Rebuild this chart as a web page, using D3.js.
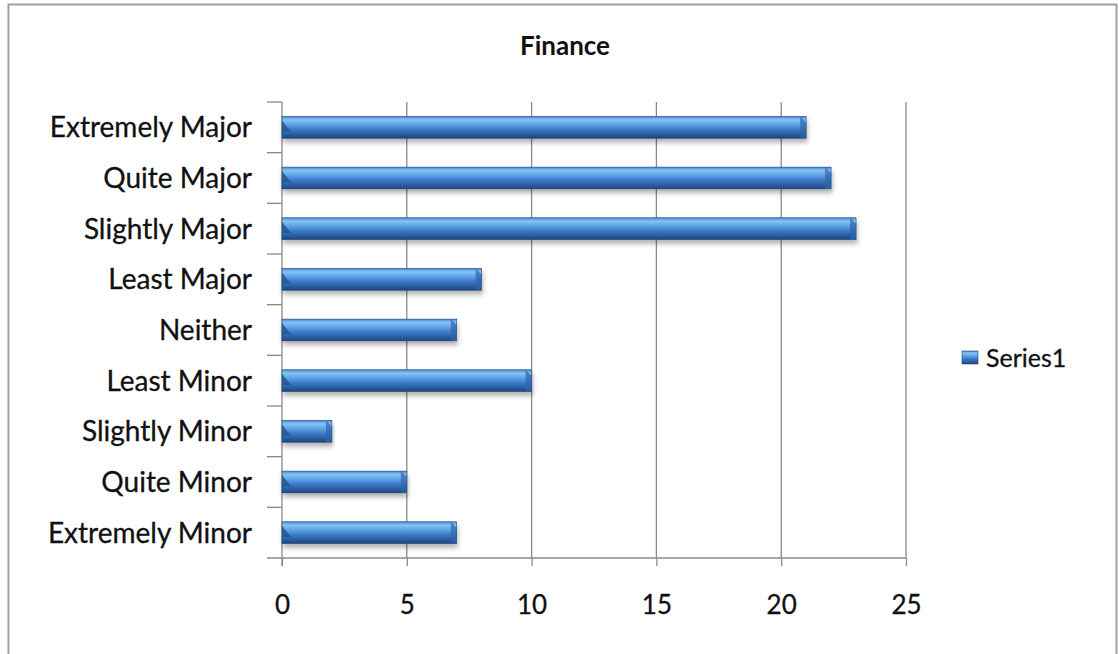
<!DOCTYPE html>
<html>
<head>
<meta charset="utf-8">
<script src="https://cdn.jsdelivr.net/npm/d3@7"></script>
<style>
  body { margin: 0; background: #fff; }
  svg { display: block; }
</style>
</head>
<body>
<svg id="chart" width="1119" height="654"></svg>
<script>
"use strict";

// categories, top to bottom as drawn
var categories = ["Extremely Major", "Quite Major", "Slightly Major", "Least Major",
  "Neither", "Least Minor", "Slightly Minor", "Quite Minor", "Extremely Minor"]
var values = [21, 22, 23, 8, 7, 10, 2, 5, 7]
var xTicks = [0, 5, 10, 15, 20, 25]
var seriesName = "Series1"
var title = "Finance"

var svg = d3.select("#chart")
var font = "Lato, 'Open Sans', sans-serif"

// outer chart border (bottom runs off the picture)
svg.append("rect")
  .attr("x", 8.5).attr("y", 4.5)
  .attr("width", 1108).attr("height", 700)
  .attr("fill", "none")
  .attr("stroke", "#a0a0a0")
  .attr("stroke-width", 2)

var plotLeft = 282, plotRight = 906, plotTop = 102, plotBottom = 558

var x = d3.scaleLinear().domain([0, 25]).range([plotLeft, plotRight])
var y = d3.scaleBand().domain(categories).range([plotTop, plotBottom]).paddingInner(0.57).paddingOuter(0.285)

var defs = svg.append("defs")
var grad = defs.append("linearGradient")
  .attr("id", "barGrad").attr("x1", 0).attr("y1", 0).attr("x2", 0).attr("y2", 1)
grad.selectAll("stop")
  .data([
    ["0%", "#4586d4"], ["15%", "#86c2f6"], ["32%", "#69acec"],
    ["58%", "#3d7dca"], ["82%", "#2b5d9f"], ["100%", "#1e4679"]
  ])
  .enter().append("stop")
  .attr("offset", function(d) { return d[0] })
  .attr("stop-color", function(d) { return d[1] })

var shadow = defs.append("filter").attr("id", "shadow")
  .attr("x", "-5%").attr("y", "-20%").attr("width", "110%").attr("height", "170%")
shadow.append("feGaussianBlur").attr("in", "SourceAlpha").attr("stdDeviation", 2.5)
shadow.append("feOffset").attr("dx", 1).attr("dy", 4).attr("result", "off")
shadow.append("feComponentTransfer").append("feFuncA").attr("type", "linear").attr("slope", 0.3)
var merge = shadow.append("feMerge")
merge.append("feMergeNode")
merge.append("feMergeNode").attr("in", "SourceGraphic")

// vertical gridlines
svg.append("g")
  .selectAll("line")
  .data(xTicks.slice(1))
  .enter().append("line")
  .attr("x1", function(d) { return x(d) }).attr("x2", function(d) { return x(d) })
  .attr("y1", plotTop).attr("y2", plotBottom)
  .attr("stroke", "#8a8a8a").attr("stroke-width", 1.3)

// x axis
var xAxis = svg.append("g")
  .attr("transform", "translate(0," + plotBottom + ")")
  .call(d3.axisBottom(x).tickValues(xTicks).tickSize(8).tickPadding(30).tickSizeOuter(0))
xAxis.select(".domain").attr("stroke", "#8a8a8a").attr("stroke-width", 1.3)
  .attr("d", "M" + (plotLeft - 15) + ",0H" + plotRight)
xAxis.selectAll(".tick line").attr("stroke", "#8a8a8a").attr("stroke-width", 1.3)
xAxis.selectAll(".tick text")
  .attr("font-family", font).attr("font-size", 26).attr("fill", "#111")
  .attr("stroke", "#111").attr("stroke-width", 0.3)

// y axis with ticks between categories
var yAxis = svg.append("g").attr("transform", "translate(" + plotLeft + ",0)")
yAxis.append("line")
  .attr("x1", 0).attr("x2", 0).attr("y1", plotTop).attr("y2", plotBottom + 8)
  .attr("stroke", "#8a8a8a").attr("stroke-width", 1.3)
var step = (plotBottom - plotTop) / categories.length
yAxis.selectAll(".ytick")
  .data(d3.range(categories.length))
  .enter().append("line")
  .attr("x1", -15).attr("x2", 0)
  .attr("y1", function(i) { return plotTop + i * step }).attr("y2", function(i) { return plotTop + i * step })
  .attr("stroke", "#8a8a8a").attr("stroke-width", 1.3)
yAxis.selectAll("text")
  .data(categories)
  .enter().append("text")
  .attr("x", -30)
  .attr("y", function(d) { return y(d) + y.bandwidth() / 2 })
  .attr("dy", "0.36em")
  .attr("text-anchor", "end")
  .attr("font-family", font).attr("font-size", 28).attr("fill", "#111")
  .attr("stroke", "#111").attr("stroke-width", 0.3)
  .text(function(d) { return d })

// bars
var bars = svg.append("g").selectAll("g")
  .data(categories)
  .enter().append("g")
  .attr("filter", "url(#shadow)")

bars.append("rect")
  .attr("x", x(0))
  .attr("y", function(d) { return y(d) })
  .attr("width", function(d, i) { return x(values[i]) - x(0) })
  .attr("height", y.bandwidth())
  .attr("fill", "url(#barGrad)")
  .attr("stroke", "#1e4679").attr("stroke-width", 0.6)

// bevelled right end of each bar
bars.append("path")
  .attr("d", function(d, i) {
    var x1 = x(values[i]), y0 = y(d), h = y.bandwidth()
    return "M" + (x1 - 6) + "," + y0 + "L" + x1 + "," + (y0 + 6) + "L" + x1 + "," + (y0 + h) +
      "L" + (x1 - 6) + "," + (y0 + h) + "Z"
  })
  .attr("fill", "#2f65a8").attr("opacity", 0.7)

// bevelled left end
bars.append("path")
  .attr("d", function(d) {
    var x0 = x(0), y0 = y(d), h = y.bandwidth()
    return "M" + x0 + "," + (y0 + 4) + "L" + (x0 + 9) + "," + (y0 + h * 0.7) + "L" + x0 + "," + (y0 + h * 0.7) + "Z"
  })
  .attr("fill", "#24528f").attr("opacity", 0.8)

// title
svg.append("text")
  .attr("x", 565).attr("y", 55)
  .attr("text-anchor", "middle")
  .attr("font-family", font).attr("font-size", 26).attr("font-weight", "bold").attr("fill", "#111")
  .text(title)

// legend
var legend = svg.append("g").attr("transform", "translate(962,351)")
legend.append("rect")
  .attr("width", 16).attr("height", 13)
  .attr("fill", "url(#barGrad)").attr("stroke", "#1e4679").attr("stroke-width", 0.6)
legend.append("text")
  .attr("x", 24).attr("y", 7).attr("dy", "0.36em")
  .attr("font-family", font).attr("font-size", 25).attr("fill", "#111")
  .attr("stroke", "#111").attr("stroke-width", 0.3)
  .text(seriesName)
</script>
</body>
</html>
